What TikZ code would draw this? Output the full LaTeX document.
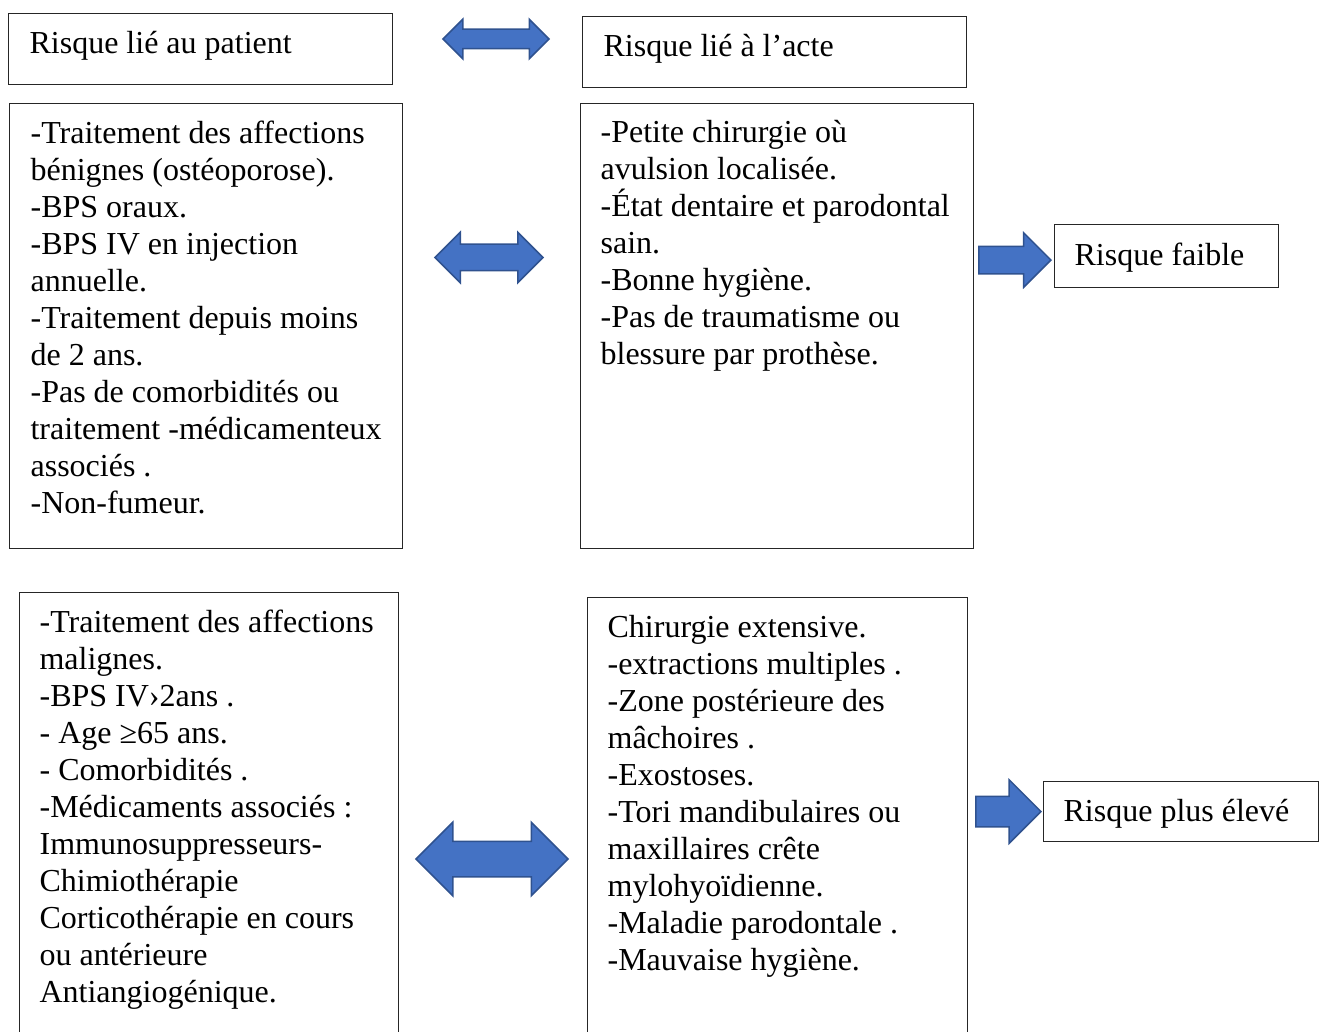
\documentclass[tikz,border=0pt]{standalone}
\usepackage{fontspec}
\setmainfont{Liberation Serif}[Ligatures=NoCommon]
\usetikzlibrary{shapes.arrows}
\usetikzlibrary{positioning}
\definecolor{arrowfill}{HTML}{4472C4}
\definecolor{arrowline}{HTML}{2F528F}

\begin{document}
\begin{tikzpicture}[x=1pt,y=-1pt,
		box/.style={draw=black!85,line width=1.2pt,inner sep=0pt,anchor=north west,align=flush left,font=\fontsize{32}{37}\selectfont},
		dblarrow/.style={double arrow,fill=arrowfill,draw=arrowline,line width=1.5pt,inner xsep=0pt},
		sglarrow/.style={single arrow,fill=arrowfill,draw=arrowline,line width=1.5pt,inner xsep=0pt}]
		\useasboundingbox (0,0) rectangle (1325,1032);

		% titres
		\node[box,inner xsep=21pt,text width=342pt,text height=40pt,text depth=31pt] (patient) at (8,13) {Risque lié au patient};
		\node[box,inner xsep=21pt,text width=342pt,text height=40pt,text depth=31pt] (acte) at (582,16) {Risque lié à l’acte};

		% risque faible
		\node[box,inner xsep=21pt,text width=351pt,text height=40pt,text depth=405pt] (patfaible) at (9,103)
			{\mbox{-Traitement des affections}\\bénignes (ostéoporose).\\-BPS oraux.\\-BPS IV en injection\\annuelle.\\-Traitement depuis moins\\de 2 ans.\\-Pas de comorbidités ou\\\mbox{traitement -médicamenteux}\\associés .\\-Non-fumeur.};
		\node[box,inner xsep=20pt,text width=353pt,text height=39pt,text depth=406pt] (actfaible) at (580,103)
			{-Petite chirurgie où\\avulsion localisée.\\\mbox{-État dentaire et parodontal}\\sain.\\-Bonne hygiène.\\-Pas de traumatisme ou\\blessure par prothèse.};
		\node[box,inner xsep=20pt,text width=184pt,text height=41pt,text depth=22pt] (faible) at (1054,224) {Risque faible};

		% risque plus eleve
		\node[box,inner xsep=20pt,text width=339pt,text height=40pt,text depth=440pt] (patfort) at (19,592)
			{\mbox{-Traitement des affections}\\malignes.\\-BPS IV›2ans .\\- Age ≥65 ans.\\- Comorbidités .\\-Médicaments associés :\\Immunosuppresseurs-\\Chimiothérapie\\Corticothérapie en cours\\ou antérieure\\Antiangiogénique.};
		\node[box,inner xsep=20pt,text width=340pt,text height=40pt,text depth=440pt] (actfort) at (587,597)
			{Chirurgie extensive.\\-extractions multiples .\\-Zone postérieure des\\mâchoires .\\-Exostoses.\\-Tori mandibulaires ou\\maxillaires crête\\mylohyoïdienne.\\-Maladie parodontale .\\-Mauvaise hygiène.};
		\node[box,inner xsep=20pt,text width=235pt,text height=40pt,text depth=20pt] (eleve) at (1043,781) {Risque plus élevé};

		% fleches
		\node[dblarrow,inner ysep=9pt,minimum height=106pt,minimum width=38pt,double arrow head extend=10pt] (lien) at (496,39) {};
		\node[dblarrow,inner ysep=12.5pt,minimum height=108pt,minimum width=49pt,double arrow head extend=12pt] (lienfaible) at (489,257.5) {};
		\node[dblarrow,inner ysep=17pt,minimum height=152pt,minimum width=72pt,double arrow head extend=19pt] (lienfort) at (492,859) {};
		\node[sglarrow,inner ysep=13pt,minimum height=72pt,minimum width=53pt,single arrow head extend=13.5pt,left=2pt of faible,yshift=-4pt] (versfaible) {};
		\node[sglarrow,inner ysep=14.5pt,minimum height=65pt,minimum width=62pt,single arrow head extend=16.5pt,left=1pt of eleve] (verseleve) {};
\end{tikzpicture}
\end{document}
